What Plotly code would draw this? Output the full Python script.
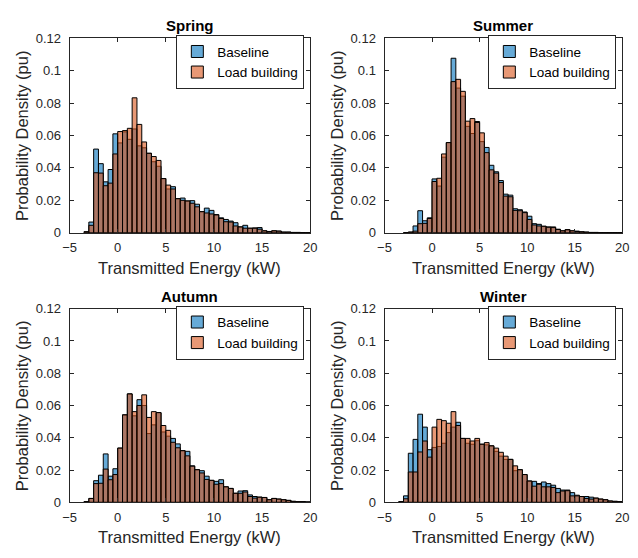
import plotly.graph_objects as go

# Histogram bins: 0.5 kW wide, values given per bin (left edge listed first)
BIN_W = 0.5

spring_first_edge = -3.5
spring_baseline = [0.0006, 0.0066, 0.0516, 0.0426, 0.0314, 0.0390, 0.0610,
                   0.0554, 0.0622, 0.0576, 0.0640, 0.0536, 0.0524, 0.0490, 0.0438, 0.0410,
                   0.0334, 0.0270, 0.0284, 0.0210, 0.0214, 0.0196, 0.0198, 0.0176, 0.0130,
                   0.0152, 0.0138, 0.0112, 0.0092, 0.0082, 0.0072, 0.0062, 0.0036, 0.0046,
                   0.0028, 0.0030, 0.0032, 0.0012, 0.0008, 0.0012, 0.0010, 0.0004, 0.0004,
                   0.0002, 0.0002, 0.0001, 0.0001]
spring_load = [0.0006, 0.0046, 0.0370, 0.0368, 0.0290, 0.0306, 0.0486,
               0.0624, 0.0630, 0.0644, 0.0832, 0.0668, 0.0560, 0.0490, 0.0470, 0.0446,
               0.0334, 0.0294, 0.0270, 0.0210, 0.0200, 0.0196, 0.0182, 0.0160, 0.0130,
               0.0122, 0.0116, 0.0110, 0.0088, 0.0068, 0.0066, 0.0042, 0.0036, 0.0028,
               0.0028, 0.0028, 0.0022, 0.0012, 0.0008, 0.0012, 0.0010, 0.0004, 0.0004,
               0.0002, 0.0002, 0.0001, 0.0001]

summer_first_edge = -3.0
summer_baseline = [0.0001, 0.0004, 0.0042, 0.0136, 0.0074, 0.0092,
                   0.0332, 0.0288, 0.0466, 0.0556, 0.1076, 0.0892, 0.0842, 0.0656, 0.0612,
                   0.0686, 0.0562, 0.0526, 0.0416, 0.0376, 0.0322, 0.0238, 0.0232, 0.0148,
                   0.0142, 0.0128, 0.0102, 0.0056, 0.0052, 0.0040, 0.0036, 0.0036, 0.0022,
                   0.0012, 0.0020, 0.0012, 0.0010, 0.0006, 0.0004, 0.0002, 0.0002, 0.0001,
                   0.0001, 0.0001, 0.0001, 0.0001]
summer_load = [0.0001, 0.0004, 0.0010, 0.0056, 0.0058, 0.0088,
               0.0316, 0.0336, 0.0486, 0.0556, 0.0932, 0.0946, 0.0872, 0.0688, 0.0704,
               0.0680, 0.0616, 0.0494, 0.0388, 0.0368, 0.0310, 0.0226, 0.0222, 0.0138,
               0.0136, 0.0124, 0.0082, 0.0048, 0.0042, 0.0040, 0.0034, 0.0032, 0.0020,
               0.0012, 0.0018, 0.0012, 0.0008, 0.0006, 0.0004, 0.0002, 0.0002, 0.0001,
               0.0001, 0.0001, 0.0001, 0.0001]

autumn_first_edge = -3.5
autumn_baseline = [0.0004, 0.0024, 0.0134, 0.0168, 0.0300, 0.0162, 0.0208,
                   0.0336, 0.0542, 0.0672, 0.0536, 0.0636, 0.0600, 0.0426, 0.0480, 0.0556,
                   0.0436, 0.0410, 0.0396, 0.0362, 0.0320, 0.0316, 0.0226, 0.0202, 0.0196,
                   0.0162, 0.0136, 0.0130, 0.0140, 0.0096, 0.0086, 0.0056, 0.0070, 0.0072,
                   0.0046, 0.0036, 0.0032, 0.0030, 0.0016, 0.0024, 0.0020, 0.0016, 0.0012,
                   0.0006, 0.0004, 0.0004, 0.0002]
autumn_load = [0.0004, 0.0024, 0.0116, 0.0118, 0.0206, 0.0140, 0.0172,
               0.0336, 0.0542, 0.0672, 0.0562, 0.0600, 0.0666, 0.0526, 0.0562, 0.0556,
               0.0476, 0.0446, 0.0372, 0.0338, 0.0320, 0.0288, 0.0224, 0.0202, 0.0182,
               0.0142, 0.0136, 0.0112, 0.0116, 0.0096, 0.0086, 0.0056, 0.0056, 0.0064,
               0.0036, 0.0026, 0.0032, 0.0030, 0.0016, 0.0024, 0.0020, 0.0016, 0.0012,
               0.0006, 0.0004, 0.0004, 0.0002]

winter_first_edge = -3.5
winter_baseline = [0.0004, 0.0040, 0.0304, 0.0390, 0.0546, 0.0466, 0.0326,
                   0.0340, 0.0346, 0.0366, 0.0432, 0.0466, 0.0496, 0.0396, 0.0366, 0.0360,
                   0.0382, 0.0360, 0.0356, 0.0350, 0.0316, 0.0286, 0.0266, 0.0266, 0.0196,
                   0.0202, 0.0172, 0.0132, 0.0130, 0.0116, 0.0126, 0.0116, 0.0106, 0.0086,
                   0.0076, 0.0076, 0.0060, 0.0044, 0.0036, 0.0036, 0.0032, 0.0026, 0.0020,
                   0.0016, 0.0008, 0.0006, 0.0004]
winter_load = [0.0004, 0.0022, 0.0188, 0.0188, 0.0312, 0.0380, 0.0280,
               0.0466, 0.0514, 0.0506, 0.0490, 0.0562, 0.0476, 0.0396, 0.0396, 0.0380,
               0.0396, 0.0360, 0.0370, 0.0350, 0.0336, 0.0310, 0.0286, 0.0266, 0.0226,
               0.0202, 0.0172, 0.0132, 0.0100, 0.0112, 0.0096, 0.0096, 0.0092, 0.0060,
               0.0070, 0.0072, 0.0040, 0.0040, 0.0036, 0.0024, 0.0020, 0.0026, 0.0020,
               0.0016, 0.0008, 0.0006, 0.0004]

seasons = ["Spring", "Summer", "Autumn", "Winter"]
series_names = ["Baseline", "Load building"]
x_ticks = [-5, 0, 5, 10, 15, 20]
y_ticks = [0, 0.02, 0.04, 0.06, 0.08, 0.1, 0.12]
y_tick_text = ["0", "0.02", "0.04", "0.06", "0.08", "0.1", "0.12"]

season_data = [
    (spring_first_edge, spring_baseline, spring_load),
    (summer_first_edge, summer_baseline, summer_load),
    (autumn_first_edge, autumn_baseline, autumn_load),
    (winter_first_edge, winter_baseline, winter_load),
]

W, H = 638, 558
FONT = "Liberation Sans, Arial, Helvetica, sans-serif"
INK = "#262626"
fills = ["rgba(0,114,189,0.6)", "rgba(217,83,25,0.6)"]

# axes boxes in pixels: (left, right, top, bottom)
boxes = [(64, 310, 32, 232), (386, 629, 32, 232),
         (64, 310, 310, 509), (386, 629, 310, 509)]


def px_x(v):
    return v / W


def px_y(v):
    return 1 - v / H


fig = go.Figure()
layout = dict(
    width=W, height=H, margin=dict(l=0, r=0, t=0, b=0),
    paper_bgcolor="white", plot_bgcolor="white",
    barmode="overlay", font=dict(family=FONT, color=INK, size=13),
    annotations=[],
)

for i, (season, (first_edge, base_vals, load_vals)) in enumerate(zip(seasons, season_data)):
    n = i + 1
    xa = "x" if n == 1 else f"x{n}"
    ya = "y" if n == 1 else f"y{n}"
    leg = "legend" if n == 1 else f"legend{n}"
    centers = [first_edge + BIN_W * (k + 0.5) for k in range(len(base_vals))]
    for vals, name, fill in zip([base_vals, load_vals], series_names, fills):
        fig.add_trace(go.Bar(
            x=centers, y=vals, width=BIN_W, name=name,
            marker=dict(color=fill, line=dict(color="black", width=1)),
            xaxis=xa, yaxis=ya, legend=leg, showlegend=True,
        ))

    left, right, top, bottom = boxes[i]
    axis_common = dict(
        showline=True, linecolor=INK, linewidth=1, mirror="ticks",
        ticks="inside", ticklen=4, tickcolor=INK, tickwidth=1,
        showgrid=False, zeroline=False,
        tickfont=dict(family=FONT, size=13, color=INK),
    )
    layout["xaxis" if n == 1 else f"xaxis{n}"] = dict(
        axis_common, domain=[px_x(left), px_x(right)], range=[-5, 20],
        tickvals=x_ticks, anchor=ya, ticklabelstandoff=3,
    )
    layout["yaxis" if n == 1 else f"yaxis{n}"] = dict(
        axis_common, domain=[px_y(bottom), px_y(top)], range=[0, 0.12],
        tickvals=y_ticks, ticktext=y_tick_text, anchor=xa, ticklabelstandoff=5,
    )
    layout[leg] = dict(
        x=px_x(right - 6), y=px_y(top - 3), xanchor="right", yanchor="top",
        bgcolor="white", bordercolor=INK, borderwidth=1,
        font=dict(family=FONT, size=13.5, color="black"),
        tracegroupgap=0, itemwidth=30,
    )
    cx = px_x((left + right) / 2)
    layout["annotations"] += [
        dict(text=f"<b>{season}</b>", x=cx, y=px_y(top), xref="paper", yref="paper",
             xanchor="center", yanchor="bottom", yshift=2, showarrow=False,
             font=dict(family=FONT, size=15, color="black")),
        dict(text="Transmitted Energy (kW)", x=cx, y=px_y(bottom + 36), xref="paper",
             yref="paper", xanchor="center", yanchor="middle", showarrow=False,
             font=dict(family=FONT, size=16.5, color=INK)),
        dict(text="Probability Density (pu)", x=px_x(left - 48), y=px_y((top + bottom) / 2),
             xref="paper", yref="paper", xanchor="center", yanchor="middle",
             textangle=-90, showarrow=False,
             font=dict(family=FONT, size=16.5, color=INK)),
    ]

fig.update_layout(**layout)
fig.write_html("out.html")
